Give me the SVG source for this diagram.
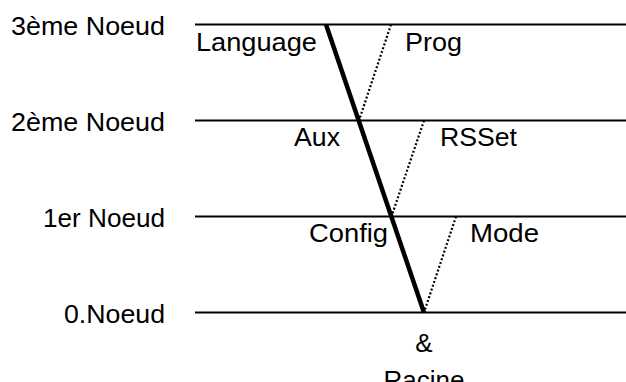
<svg xmlns="http://www.w3.org/2000/svg" width="626" height="382" viewBox="0 0 626 382">
<style>
text{font-family:"Liberation Sans",Arial,sans-serif;font-size:26px;fill:#000}
.lvl{stroke:#000;stroke-width:2;fill:none}
.main{stroke:#000;stroke-width:4.5;fill:none}
.dot{stroke:#000;stroke-width:2.2;stroke-dasharray:2 2;fill:none}
</style>
<rect width="626" height="382" fill="#fff"/>
<g id="levels">
<g id="level3"><text x="165" y="35" text-anchor="end" textLength="154" lengthAdjust="spacingAndGlyphs">3ème Noeud</text><line class="lvl" x1="195" y1="24.5" x2="626" y2="24.5"/></g>
<g id="level2"><text x="165" y="131" text-anchor="end" textLength="154" lengthAdjust="spacingAndGlyphs">2ème Noeud</text><line class="lvl" x1="195" y1="120.5" x2="626" y2="120.5"/></g>
<g id="level1"><text x="165" y="227" text-anchor="end" textLength="122" lengthAdjust="spacingAndGlyphs">1er Noeud</text><line class="lvl" x1="195" y1="216.5" x2="626" y2="216.5"/></g>
<g id="level0"><text x="165" y="323" text-anchor="end" textLength="101" lengthAdjust="spacingAndGlyphs">0.Noeud</text><line class="lvl" x1="195" y1="312.5" x2="626" y2="312.5"/></g>
</g>
<g id="connectors">
<line class="main" x1="326" y1="24.5" x2="424" y2="312.5"/>
<line class="dot" x1="391" y1="24.5" x2="359" y2="120.5"/>
<line class="dot" x1="424" y1="120.5" x2="391.5" y2="216.5"/>
<line class="dot" x1="456" y1="216.5" x2="424" y2="312.5"/>
</g>
<g id="labels">
<g id="language"><text x="196" y="51" textLength="121" lengthAdjust="spacingAndGlyphs">Language</text></g>
<g id="prog"><text x="405" y="51" textLength="57" lengthAdjust="spacingAndGlyphs">Prog</text></g>
<g id="aux"><text x="294" y="146" textLength="46" lengthAdjust="spacingAndGlyphs">Aux</text></g>
<g id="rsset"><text x="440" y="146" textLength="77" lengthAdjust="spacingAndGlyphs">RSSet</text></g>
<g id="config"><text x="309" y="242" textLength="79" lengthAdjust="spacingAndGlyphs">Config</text></g>
<g id="mode"><text x="470" y="242" textLength="69" lengthAdjust="spacingAndGlyphs">Mode</text></g>
<g id="racine"><text x="424" y="352" text-anchor="middle">&amp;</text><text x="424" y="389" text-anchor="middle" textLength="81" lengthAdjust="spacingAndGlyphs">Racine</text></g>
</g>
</svg>
